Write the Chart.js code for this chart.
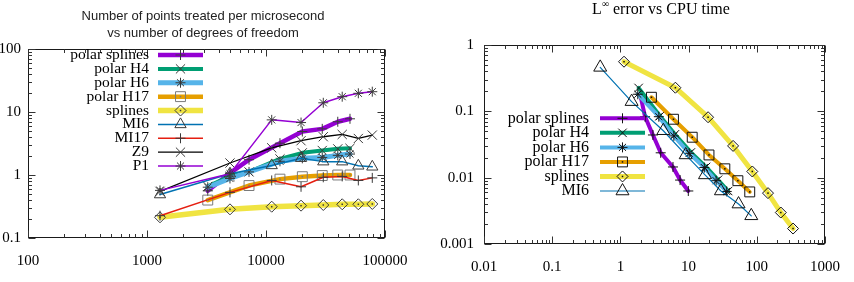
<!DOCTYPE html>
<html><head><meta charset="utf-8">
<script src="https://cdn.jsdelivr.net/npm/chart.js@4.4.1/dist/chart.umd.min.js"></script>
<style>
html,body{margin:0;padding:0;background:#fff;overflow:hidden;width:854px;height:282px}
canvas{position:absolute;top:0;display:block}
#c1{left:0}
#c2{left:427px}
</style>
</head><body>
<canvas id="c1" width="427" height="282"></canvas>
<canvas id="c2" width="427" height="282"></canvas>
<script>
// ================= LEFT PANEL: points treated per microsecond vs dofs =================
const leftXTicks = [100, 1000, 10000, 100000];
const leftXTickLabels = ['100', '1000', '10000', '100000'];
const leftYTicks = [0.1, 1, 10, 100];
const leftYTickLabels = ['0.1', '1', '10', '100'];

const leftPolarSplinesX = [3240, 4980, 7200, 13100, 20200, 29700, 40100, 50800];
const leftPolarSplinesY = [0.56, 1.07, 1.75, 3.2, 4.9, 5.4, 7.0, 7.8];
const leftPolarH4X = [3240, 4980, 7200, 13100, 20200, 29700, 40100, 50800];
const leftPolarH4Y = [0.66, 0.95, 1.12, 1.8, 2.25, 2.45, 2.6, 2.65];
const leftPolarH6X = [3240, 4980, 7200, 13100, 20200, 29700, 40100, 50800];
const leftPolarH6Y = [0.64, 0.88, 1.12, 1.65, 1.84, 1.9, 2.05, 2.15];
const leftPolarH17X = [3240, 7200, 13100, 20200, 29700, 40100, 50800];
const leftPolarH17Y = [0.40, 0.68, 0.86, 0.94, 0.98, 1.0, 1.0];
const leftSplinesX = [1286, 4980, 11170, 19700, 30300, 43700, 59700, 78200];
const leftSplinesY = [0.213, 0.285, 0.314, 0.326, 0.334, 0.343, 0.343, 0.347];
const leftMI6X = [1286, 4980, 11170, 19700, 30300, 43700, 59700, 78200];
const leftMI6Y = [0.49, 1.05, 1.42, 1.85, 1.63, 1.63, 1.4, 1.35];
const leftMI17X = [1286, 4980, 11170, 19700, 30300, 43700, 59700, 78200];
const leftMI17Y = [0.226, 0.53, 0.82, 0.65, 0.92, 0.95, 0.82, 0.9];
const leftZ9X = [1286, 4980, 11170, 19700, 30300, 43700, 59700, 78200];
const leftZ9Y = [0.55, 1.55, 2.7, 3.5, 4.05, 4.4, 3.8, 4.3];
const leftP1X = [1286, 4980, 11170, 19700, 30300, 43700, 59700, 78200];
const leftP1Y = [0.57, 1.05, 7.5, 6.8, 14, 17.5, 19.8, 21];

// ================= RIGHT PANEL: L-infinity error vs CPU time =================
const rightXTicks = [0.01, 0.1, 1, 10, 100, 1000];
const rightXTickLabels = ['0.01', '0.1', '1', '10', '100', '1000'];
const rightYTicks = [0.001, 0.01, 0.1, 1];
const rightYTickLabels = ['0.001', '0.01', '0.1', '1'];

const rightPolarSplinesX = [1.95, 2.3, 3.0, 3.9, 5.9, 7.5, 9.9];
const rightPolarSplinesY = [0.18, 0.083, 0.044, 0.0237, 0.0145, 0.0092, 0.0063];
const rightPolarH4X = [1.85, 3.8, 6.3, 10.8, 18, 27, 38];
const rightPolarH4Y = [0.225, 0.085, 0.045, 0.024, 0.0145, 0.0093, 0.0063];
const rightPolarH6X = [1.8, 3.66, 6.08, 10.2, 17, 25.3, 36.2];
const rightPolarH6Y = [0.181, 0.083, 0.0426, 0.0233, 0.0142, 0.009, 0.0062];
const rightPolarH17X = [2.85, 6.0, 11.3, 19.9, 34, 52.8, 78.8];
const rightPolarH17Y = [0.163, 0.076, 0.0407, 0.022, 0.0136, 0.009, 0.0061];
const rightSplinesX = [1.13, 6.4, 19.3, 44.9, 85.9, 146, 225, 340];
const rightSplinesY = [0.56, 0.227, 0.0815, 0.0301, 0.0124, 0.00585, 0.00298, 0.00171];
const rightMI6X = [0.506, 1.46, 4.26, 9.07, 17.4, 29.8, 54, 83];
const rightMI6Y = [0.46, 0.14, 0.051, 0.022, 0.011, 0.0063, 0.004, 0.00266];

// ---------------------------------------------------------------------------
const SERIF = '"Liberation Serif", "Times New Roman", serif';
const SANS = '"Liberation Sans", Arial, sans-serif';
function pts(xs, ys) { return xs.map((x, i) => ({ x: x, y: ys[i] })); }

function ds(label, xs, ys, color, width, style, radius, markColor, dot) {
  return {
    label: label, data: pts(xs, ys), showLine: true,
    borderColor: color, borderWidth: width, backgroundColor: color,
    borderJoinStyle: 'round', borderCapStyle: 'round',
    pointStyle: style, pointRadius: radius, pointHoverRadius: radius,
    pointBorderColor: markColor, pointBackgroundColor: 'rgba(0,0,0,0)',
    pointBorderWidth: 1, dot: !!dot
  };
}

function drawMarker(ctx, style, r, x, y) {
  const S = Math.SQRT1_2;
  ctx.beginPath();
  if (style === 'cross' || style === 'star') {
    ctx.moveTo(x, y - r); ctx.lineTo(x, y + r); ctx.moveTo(x - r, y); ctx.lineTo(x + r, y);
  }
  if (style === 'crossRot' || style === 'star') {
    const o = r * S;
    ctx.moveTo(x - o, y - o); ctx.lineTo(x + o, y + o); ctx.moveTo(x + o, y - o); ctx.lineTo(x - o, y + o);
  }
  if (style === 'rect') { const s = r * S; ctx.rect(x - s, y - s, 2 * s, 2 * s); }
  if (style === 'rectRot') { ctx.moveTo(x - r, y); ctx.lineTo(x, y - r); ctx.lineTo(x + r, y); ctx.lineTo(x, y + r); ctx.closePath(); }
  if (style === 'triangle') {
    ctx.moveTo(x, y - r);
    ctx.lineTo(x + r * Math.sin(2 * Math.PI / 3), y - r * Math.cos(2 * Math.PI / 3));
    ctx.lineTo(x + r * Math.sin(4 * Math.PI / 3), y - r * Math.cos(4 * Math.PI / 3));
    ctx.closePath();
  }
  ctx.stroke();
}

// frame + inward gnuplot-like ticks on all four sides
const framePlugin = {
  id: 'frame',
  beforeDatasetsDraw(chart) {
    const { ctx, chartArea: a } = chart;
    const xs = chart.scales.x, ys = chart.scales.y;
    const L = Math.round(a.left) + 0.5, R = Math.round(a.right) - 0.5;
    const T = Math.round(a.top) + 0.5, B = Math.round(a.bottom) - 0.5;
    ctx.save();
    ctx.strokeStyle = '#1a1a1a'; ctx.lineWidth = 1;
    ctx.strokeRect(L, T, R - L, B - T);
    ctx.strokeStyle = '#333';
    function logTicks(s) {
      const out = [];
      for (let e = Math.floor(Math.log10(s.min)) ; e <= Math.ceil(Math.log10(s.max)); e++) {
        for (let k = 1; k < 10; k++) {
          const v = k * Math.pow(10, e);
          if (v >= s.min * 0.9999 && v <= s.max * 1.0001) out.push([v, k === 1]);
        }
      }
      return out;
    }
    ctx.beginPath();
    for (const [v, maj] of logTicks(xs)) {
      const p = Math.round(xs.getPixelForValue(v)) + 0.5;
      const len = maj ? 7 : 3.5;
      ctx.moveTo(p, B); ctx.lineTo(p, B - len);
      ctx.moveTo(p, T); ctx.lineTo(p, T + len);
    }
    for (const [v, maj] of logTicks(ys)) {
      const p = Math.round(ys.getPixelForValue(v)) + 0.5;
      const len = maj ? 7 : 3.5;
      ctx.moveTo(L, p); ctx.lineTo(L + len, p);
      ctx.moveTo(R, p); ctx.lineTo(R - len, p);
    }
    ctx.stroke();
    ctx.restore();
  }
};

// small centre dot for squares and diamonds (as in gnuplot)
const dotPlugin = {
  id: 'dots',
  afterDatasetsDraw(chart) {
    const ctx = chart.ctx;
    ctx.save();
    chart.data.datasets.forEach((d, i) => {
      if (!d.dot) return;
      ctx.fillStyle = d.pointBorderColor;
      chart.getDatasetMeta(i).data.forEach(el => { ctx.fillRect(el.x - 0.75, el.y - 0.75, 1.5, 1.5); });
    });
    ctx.restore();
  }
};

function legendPlugin(cfg) {
  return {
    id: 'gpLegend',
    afterDatasetsDraw(chart) {
      const ctx = chart.ctx;
      ctx.save();
      chart.data.datasets.forEach((d, i) => {
        const y = cfg.y0 + i * cfg.dy;
        ctx.font = cfg.font; ctx.fillStyle = '#000';
        ctx.textAlign = 'right'; ctx.textBaseline = 'middle';
        ctx.fillText(d.label, cfg.textX, y);
        ctx.strokeStyle = d.borderColor; ctx.lineWidth = d.borderWidth; ctx.lineCap = 'butt';
        ctx.beginPath(); ctx.moveTo(cfg.x1, y); ctx.lineTo(cfg.x2, y); ctx.stroke();
        const mx = (cfg.x1 + cfg.x2) / 2;
        ctx.strokeStyle = d.pointBorderColor; ctx.lineWidth = 1; ctx.lineCap = 'butt';
        drawMarker(ctx, d.pointStyle, d.pointRadius, mx, y);
        if (d.dot) { ctx.fillStyle = d.pointBorderColor; ctx.fillRect(mx - 0.75, y - 0.75, 1.5, 1.5); }
      });
      ctx.restore();
    }
  };
}

function titlePlugin(drawFn) { return { id: 'gpTitle', afterDraw(chart) { const c = chart.ctx; c.save(); drawFn(c); c.restore(); } }; }

function tickLabel(ticks, labels) {
  return function (v) {
    const i = ticks.findIndex(t => Math.abs(t - v) / t < 1e-6);
    return i >= 0 ? labels[i] : '';
  };
}

function makeScales(xmin, xmax, ymin, ymax, xT, xL, yT, yL, yWidth, xHeight, yPad, xPad) {
  const font = { family: SERIF, size: 15 };
  return {
    x: {
      type: 'logarithmic', position: 'bottom', min: xmin, max: xmax,
      grid: { display: false, drawTicks: false }, border: { display: false },
      ticks: { autoSkip: false, maxRotation: 0, minRotation: 0, padding: xPad, color: '#000', font: font, callback: tickLabel(xT, xL) },
      afterFit: s => { s.height = xHeight; }
    },
    y: {
      type: 'logarithmic', position: 'left', min: ymin, max: ymax,
      grid: { display: false, drawTicks: false }, border: { display: false },
      ticks: { autoSkip: false, padding: yPad, color: '#000', font: font, callback: tickLabel(yT, yL) },
      afterFit: s => { s.width = yWidth; }
    }
  };
}

function setOrder(list) { const n = list.length; list.forEach((d, i) => { d.order = n - i; }); return list; }

const commonOpts = {
  responsive: false, animation: false, devicePixelRatio: 1,
  plugins: { legend: { display: false }, title: { display: false }, tooltip: { enabled: false } },
  events: []
};

// ---------------- left chart ----------------
const LM = '#3a3a3a';
const leftSets = setOrder([
  ds('polar splines', leftPolarSplinesX, leftPolarSplinesY, '#9400d3', 4.5, 'cross', 5, LM),
  ds('polar H4', leftPolarH4X, leftPolarH4Y, '#009e73', 4, 'crossRot', 6.5, LM),
  ds('polar H6', leftPolarH6X, leftPolarH6Y, '#56b4e9', 5, 'star', 5, LM),
  ds('polar H17', leftPolarH17X, leftPolarH17Y, '#e69f00', 4.5, 'rect', 7, '#7a7a7a', true),
  ds('splines', leftSplinesX, leftSplinesY, '#f0e442', 5.5, 'rectRot', 5.5, LM, true),
  ds('MI6', leftMI6X, leftMI6Y, '#0072b2', 1.5, 'triangle', 6.5, LM),
  ds('MI17', leftMI17X, leftMI17Y, '#e51e10', 1.5, 'cross', 5, LM),
  ds('Z9', leftZ9X, leftZ9Y, '#000000', 1.3, 'crossRot', 6.5, LM),
  ds('P1', leftP1X, leftP1Y, '#9400d3', 1.5, 'star', 5, LM)
]);

new Chart(document.getElementById('c1'), {
  type: 'scatter',
  data: { datasets: leftSets },
  options: Object.assign({}, commonOpts, {
    layout: { padding: { left: 0, top: 49, right: 42, bottom: 0 } },
    scales: makeScales(100, 100000, 0.1, 100, leftXTicks, leftXTickLabels, leftYTicks, leftYTickLabels, 28, 44, 7, 14)
  }),
  plugins: [framePlugin, dotPlugin,
    legendPlugin({ textX: 149, x1: 158, x2: 203, y0: 55, dy: 13.88, font: '15.5px ' + SERIF }),
    titlePlugin(ctx => {
      ctx.font = '13px ' + SANS; ctx.fillStyle = '#222';
      ctx.textAlign = 'center'; ctx.textBaseline = 'middle';
      ctx.fillText('Number of points treated per microsecond', 203, 16);
      ctx.fillText('vs number of degrees of freedom', 203, 33);
    })]
});

// ---------------- right chart ----------------
const RM = '#111111';
const rightSets = setOrder([
  ds('polar splines', rightPolarSplinesX, rightPolarSplinesY, '#9400d3', 4, 'cross', 5, RM),
  ds('polar H4', rightPolarH4X, rightPolarH4Y, '#009e73', 4, 'crossRot', 6, RM),
  ds('polar H6', rightPolarH6X, rightPolarH6Y, '#56b4e9', 4, 'star', 5, RM),
  ds('polar H17', rightPolarH17X, rightPolarH17Y, '#e69f00', 4, 'rect', 7, RM, true),
  ds('splines', rightSplinesX, rightSplinesY, '#f0e442', 5, 'rectRot', 5.5, RM, true),
  ds('MI6', rightMI6X, rightMI6Y, '#0072b2', 1.2, 'triangle', 7.5, RM)
]);

new Chart(document.getElementById('c2'), {
  type: 'scatter',
  data: { datasets: rightSets },
  options: Object.assign({}, commonOpts, {
    layout: { padding: { left: 0, top: 45, right: 15, bottom: 0 } },
    scales: makeScales(0.01, 1000, 0.001, 1, rightXTicks, rightXTickLabels, rightYTicks, rightYTickLabels, 57, 38, 10, 14)
  }),
  plugins: [framePlugin, dotPlugin,
    legendPlugin({ textX: 162, x1: 173, x2: 218, y0: 118.3, dy: 14.54, font: '16px ' + SERIF }),
    titlePlugin(ctx => {
      const big = '16px ' + SERIF, small = '10px ' + SERIF;
      const rest = ' error vs CPU time';
      ctx.fillStyle = '#000'; ctx.textBaseline = 'alphabetic'; ctx.textAlign = 'left';
      ctx.font = big; const wL = ctx.measureText('L').width; const wR = ctx.measureText(rest).width;
      ctx.font = small; const wI = ctx.measureText('\u221e').width;
      let x = 234 - (wL + wI + wR) / 2;
      ctx.font = big; ctx.fillText('L', x, 13.5); x += wL;
      ctx.font = small; ctx.fillText('\u221e', x, 7); x += wI;
      ctx.font = big; ctx.fillText(rest, x, 13.5);
    })]
});
</script>
</body></html>
